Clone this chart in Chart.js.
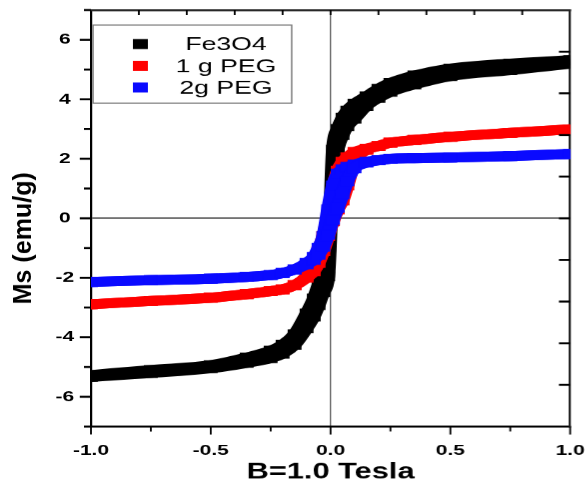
<!DOCTYPE html>
<html>
<head>
<meta charset="utf-8">
<script src="https://cdn.jsdelivr.net/npm/chart.js@4/dist/chart.umd.min.js"></script>
<style>
  html, body { margin: 0; padding: 0; background: #fff; overflow: hidden; }
  /* the reference picture is stretched sideways, so draw narrow and stretch */
  #wrap { position: absolute; left: 0; top: 0; height: 482px; transform-origin: 0 0; }
</style>
</head>
<body>
<div id="wrap"><canvas id="chart"></canvas></div>
<script>
const S = 1.4;
const wrap = document.getElementById('wrap');
wrap.style.width = (587 / S) + 'px';
wrap.style.transform = 'scaleX(' + S + ')';

// field (T), shared by every branch
const fieldVals = [-1, -0.75, -0.5, -0.35, -0.25, -0.2, -0.15, -0.1, -0.07, -0.05, -0.03, -0.01,
                   0.01, 0.03, 0.05, 0.07, 0.1, 0.15, 0.2, 0.25, 0.35, 0.5, 0.75, 1];

// magnetisation (emu/g), rising and falling branch of each loop
const fe3o4Up = [-5.33, -5.2, -5.04, -4.86, -4.7, -4.55, -4.25, -3.7, -3.3, -2.92, -2.48, -1.95,
                 1.5, 2.35, 2.8, 3.1, 3.35, 3.78, 4.05, 4.25, 4.5, 4.78, 4.98, 5.2];
const fe3o4Down = [-5.27, -5.1, -4.94, -4.68, -4.45, -4.25, -3.9, -3.2, -2.7, -2.25, -1.92, -1.5,
                   2.3, 3.0, 3.38, 3.62, 3.85, 4.1, 4.35, 4.55, 4.8, 5.03, 5.2, 5.31];
const peg1Up = [-2.89, -2.78, -2.67, -2.55, -2.45, -2.39, -2.25, -2.0, -1.78, -1.5, -1.1, -0.6,
                -0.1, 0.3, 0.6, 1.1, 1.9, 2.3, 2.43, 2.54, 2.63, 2.74, 2.87, 2.99];
const peg1Down = [-2.89, -2.78, -2.67, -2.55, -2.45, -2.39, -2.25, -1.95, -1.55, -1.1, -0.6, 0.1,
                  1.0, 1.6, 1.9, 2.05, 2.23, 2.34, 2.43, 2.54, 2.63, 2.74, 2.87, 2.99];
const peg2Up = [-2.14, -2.08, -2.03, -1.97, -1.91, -1.84, -1.72, -1.55, -1.4, -1.22, -0.95, -0.55,
                -0.05, 0.35, 0.8, 1.25, 1.68, 1.87, 1.95, 2.0, 2.02, 2.04, 2.09, 2.16];
const peg2Down = [-2.14, -2.08, -2.03, -1.97, -1.91, -1.84, -1.72, -1.5, -1.3, -1.0, -0.6, 0.3,
                  1.1, 1.5, 1.65, 1.73, 1.81, 1.9, 1.95, 2.0, 2.02, 2.04, 2.09, 2.16];

const seriesNames = ['Fe3O4', '1 g PEG', '2g PEG'];
const seriesColors = ['#000000', '#ff0000', '#0a0aff'];

const FONT = '"Liberation Sans", Arial, sans-serif';

const pts = (ys) => fieldVals.map((b, i) => ({x: b, y: ys[i]}));

const branch = (ys, color, order) => ({
    data: pts(ys),
    borderColor: color,
    backgroundColor: color,
    borderWidth: 10,
    pointStyle: 'rect',
    pointRadius: 7,
    pointBorderWidth: 0,
    cubicInterpolationMode: 'monotone',
    showLine: true,
    clip: 0,
    order: order
});

// fixed box sizes, and no extra room for overhanging end labels
const fixBox = (w, h) => (s) => {
    if (w !== null) s.width = w;
    if (h !== null) s.height = h;
    s.paddingLeft = 0; s.paddingRight = 0; s.paddingTop = 0; s.paddingBottom = 0;
};

// tick marks drawn by hand so that minor ones can be shorter and top/right point inward
const frameTicks = {
    id: 'frameTicks',
    afterDraw(chart) {
        const {ctx, chartArea: a, scales} = chart;
        const seg = (x1, y1, x2, y2, w) => {
            ctx.lineWidth = w;
            ctx.beginPath(); ctx.moveTo(x1, y1); ctx.lineTo(x2, y2); ctx.stroke();
        };
        ctx.save();
        ctx.strokeStyle = '#000';
        scales.x.ticks.forEach(t => {
            const p = scales.x.getPixelForValue(t.value);
            seg(p, a.bottom, p, a.bottom + (t.label !== '' ? 8 : 5), 1.3);
        });
        scales.y.ticks.forEach(t => {
            const p = scales.y.getPixelForValue(t.value);
            seg(a.left, p, a.left - (t.label !== '' ? 8 : 5), p, 2);
        });
        scales.x2.ticks.forEach(t => {
            const p = scales.x2.getPixelForValue(t.value);
            if (p > a.left + 2 && p < a.right - 2) seg(p, a.top, p, a.top + 5, 1.3);
        });
        scales.y2.ticks.forEach(t => {
            const p = scales.y2.getPixelForValue(t.value);
            if (p > a.top + 2 && p < a.bottom - 2) seg(a.right, p, a.right - 8, p, 2);
        });

        // y axis title, undone from the sideways stretch
        ctx.save();
        ctx.translate(17, 238);
        ctx.scale(1 / S, 1);
        ctx.rotate(-Math.PI / 2);
        ctx.fillStyle = '#000';
        ctx.font = 'bold 25px ' + FONT;
        ctx.textAlign = 'center';
        ctx.textBaseline = 'middle';
        ctx.fillText('Ms (emu/g)', 0, 0);
        ctx.restore();

        // legend box inside the plot
        const bx = a.left + 1.5, by = 25, bw = 142, bh = 78;
        ctx.fillStyle = '#fff';
        ctx.fillRect(bx, by, bw, bh);
        ctx.strokeStyle = '#777';
        ctx.lineWidth = 1;
        ctx.strokeRect(bx, by, bw, bh);
        ctx.font = '19px ' + FONT;
        ctx.textAlign = 'center';
        ctx.textBaseline = 'middle';
        seriesNames.forEach((name, i) => {
            const ry = by + 19 + i * 21.7;
            ctx.fillStyle = seriesColors[i];
            ctx.fillRect(bx + 28.5, ry - 5, 10.7, 10);
            ctx.fillStyle = '#000';
            ctx.fillText(name, bx + 95, ry + 1);
        });
        ctx.restore();
    }
};

const zeroLine = (c) => (c.tick && Math.abs(c.tick.value) < 1e-9) ? '#444' : 'rgba(0,0,0,0)';

new Chart(document.getElementById('chart'), {
    type: 'scatter',
    data: {
        datasets: [
            branch(fe3o4Up, seriesColors[0], 3),
            branch(fe3o4Down, seriesColors[0], 3),
            branch(peg1Up, seriesColors[1], 2),
            branch(peg1Down, seriesColors[1], 2),
            branch(peg2Up, seriesColors[2], 1),
            branch(peg2Down, seriesColors[2], 1)
        ]
    },
    options: {
        responsive: true,
        maintainAspectRatio: false,
        devicePixelRatio: S,
        animation: false,
        layout: { padding: { left: 0, top: 10, right: 587 / S - 570.5 / S, bottom: 0 } },
        plugins: { legend: { display: false }, tooltip: { enabled: false } },
        scales: {
            x: {
                type: 'linear', position: 'bottom', min: -1, max: 1,
                afterFit: fixBox(null, 56),
                ticks: {
                    stepSize: 0.25, padding: 15, color: '#000',
                    font: { family: FONT, size: 15, weight: 'bold' },
                    callback: (v) => Math.abs(v * 2 - Math.round(v * 2)) < 1e-6 ? v.toFixed(1) : ''
                },
                grid: { color: zeroLine, lineWidth: 0.8, drawTicks: false },
                border: { display: true, color: '#000', width: 2 },
                title: {
                    display: true, text: 'B=1.0 Tesla', color: '#000', padding: { top: 0, bottom: -3 },
                    font: { family: FONT, size: 22, weight: 'bold' }
                }
            },
            y: {
                type: 'linear', position: 'left', min: -7, max: 7,
                afterFit: fixBox(91 / S, null),
                ticks: {
                    stepSize: 1, padding: 12, crossAlign: 'center', color: '#000',
                    font: { family: FONT, size: 15, weight: 'bold' },
                    callback: (v) => v % 2 === 0 ? String(v) : ''
                },
                grid: { color: zeroLine, lineWidth: 1.3, drawTicks: false },
                border: { display: true, color: '#000', width: 1.6 }
            },
            x2: {
                type: 'linear', position: 'top', min: -1, max: 1,
                afterFit: fixBox(null, 0),
                ticks: { display: false, stepSize: 0.2 },
                grid: { drawOnChartArea: false, drawTicks: false, color: 'rgba(0,0,0,0)' },
                border: { display: true, color: '#222', width: 2 }
            },
            y2: {
                type: 'linear', position: 'right', min: -7, max: 7,
                afterFit: fixBox(0, null),
                ticks: { display: false, stepSize: 1.4 },
                grid: { drawOnChartArea: false, drawTicks: false, color: 'rgba(0,0,0,0)' },
                border: { display: true, color: '#222', width: 1.6 }
            }
        }
    },
    plugins: [frameTicks]
});
</script>
</body>
</html>
